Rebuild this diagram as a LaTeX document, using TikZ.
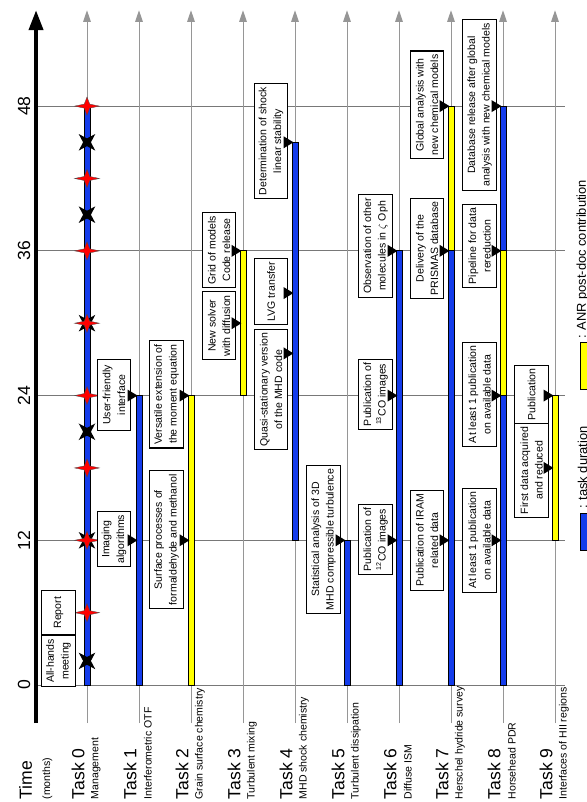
\documentclass[tikz,border=0pt]{standalone}
\usepackage{fontspec}
\setmainfont{Liberation Sans}
\usetikzlibrary{arrows.meta,shapes.geometric}
\definecolor{taskblue}{RGB}{20,60,235}
\definecolor{postdoc}{RGB}{255,255,0}
\definecolor{gridgray}{RGB}{150,150,150}

\begin{document}
\begin{tikzpicture}[
    x=1.56cm, y=0.3618cm,
    mbox/.style={draw, fill=white, line width=0.9pt, rotate=90, align=center,
                 font=\fontsize{9}{12.5}\selectfont, minimum height=28.5pt, inner sep=3pt},
    tline/.style={gridgray, line width=0.8pt, -{Triangle[length=10pt, width=6.5pt]}},
    hline/.style={gridgray!80!black, line width=0.8pt},
    bar/.style={draw=black, line width=0.6pt},
    tasklbl/.style={rotate=90, anchor=west, inner sep=0pt, font=\fontsize{15}{15}\selectfont},
    sublbl/.style={rotate=90, anchor=west, inner sep=0pt, font=\fontsize{9}{9}\selectfont},
    redstar/.style={star, star points=4, star point ratio=3.2, fill=red, draw=black!70,
                    line width=0.3pt, minimum size=15.5pt, inner sep=0pt,
                    xscale=1.37, transform shape},
    blkstar/.style={star, star points=4, star point ratio=3, fill=black,
                    shape border rotate=45, minimum size=20pt, inner sep=0pt}
  ]
  \useasboundingbox (-1.673,-9.70) rectangle (9.615,56.8);

  % --- Grid and time axis ---
  \foreach \t in {0,12,...,48}
    \draw[hline] (-0.98,\t) -- (9.19,\t);
  \foreach \i in {0,...,9}
    \draw[tline] (\i,-3.15) -- (\i,55.95);
  \draw[line width=3.2pt, -{Triangle[length=17pt, width=12pt]}] (-0.98,-3.15) -- (-0.98,55.95);
  \foreach \t in {0,12,...,48}
    \node[rotate=90, font=\fontsize{15}{15}\selectfont] (tk\t) at (-1.21,\t) {\t};

  % --- Labels ---
  \node[tasklbl] (time) at (-1.18,-9.5) {Time};
  \node[sublbl] (months) at (-0.76,-9.5) {(months)};
  \foreach \i/\name in {0/Management, 1/Interferometric OTF, 2/Grain surface chemistry,
                        3/Turbulent mixing, 4/MHD shock chemistry, 5/Turbulent dissipation,
                        6/Diffuse ISM, 7/Herschel hydride survey, 8/Horsehead PDR,
                        9/Interfaces of HII regions} {
    \node[tasklbl] (task\i) at (\i-0.17,-9.5) {Task \i};
    \node[sublbl] (sub\i) at (\i+0.17,-9.5) {\name};
  }

  % --- Task bars ---
  \foreach \i/\a/\b/\c in {0/0/48/taskblue, 1/0/24/taskblue, 2/0/24/postdoc,
                           3/24/36/postdoc, 4/12/45/taskblue, 5/0/12/taskblue,
                           6/0/36/taskblue, 7/0/36/taskblue, 7/36/48/postdoc,
                           8/0/24/taskblue, 8/24/36/postdoc, 8/36/48/taskblue,
                           9/12/24/postdoc}
    \draw[bar, fill=\c] (\i-0.058,\a) rectangle (\i+0.058,\b);

  % --- Task 0 meetings and reports ---
  \foreach \t in {2,12,21,30,39,45}
    \node[blkstar] (meet\t) at (0,\t) {};
  \foreach \t in {6,12,...,48}
    \node[redstar] (rep\t) at (0,\t) {};
  \node[mbox, minimum width=40pt] (allhands) at (-0.548,1.99) {All-hands\\meeting};
  \node[mbox, minimum width=38pt] (report) at (-0.548,6.0) {Report};

  % --- Milestones ---
  \node[mbox] (imag) at (0.52,12.1) {Imaging\\algorithms};
  \node[mbox, minimum width=60pt] (user) at (0.52,24.05) {User-friendly\\interface};
  \node[mbox] (surf) at (1.53,12.05) {Surface processes of\\formaldehyde and methanol};
  \node[mbox] (vers) at (1.53,24.1) {Versatile extension of\\the moment equation};
  \node[mbox] (solver) at (2.54,29.8) {New solver\\with diffusion};
  \node[mbox] (grid) at (2.54,36.07) {Grid of models\\Code release};
  \node[mbox] (quasi) at (3.54,24.5) {Quasi-stationary version\\of the MHD code};
  \node[mbox, minimum width=56pt] (lvg) at (3.54,32.6) {LVG transfer};
  \node[mbox] (shock) at (3.54,45.1) {Determination of shock\\linear stability};
  \node[mbox] (stat) at (4.55,12.07) {Statistical analysis of 3D\\MHD compressible turbulence};
  \node[mbox] (co12) at (5.55,12.07) {Publication of\\\textsuperscript{12}CO images};
  \node[mbox] (co13) at (5.55,24.1) {Publication of\\\textsuperscript{13}CO images};
  \node[mbox] (oph) at (5.55,36.4) {Observation of other\\molecules in $\zeta$ Oph};
  \node[mbox] (iram) at (6.54,12) {Publication of IRAM\\related data};
  \node[mbox] (prismas) at (6.54,36.2) {Delivery of the\\PRISMAS database};
  \node[mbox] (global) at (6.54,48.1) {Global analysis with\\new chemical models};
  \node[mbox] (pubA) at (7.55,12) {At least 1 publication\\on available data};
  \node[mbox] (pubB) at (7.55,24.1) {At least 1 publication\\on available data};
  \node[mbox] (pipe) at (7.55,36.4) {Pipeline for data\\rereduction};
  \node[mbox] (dbrel) at (7.55,48.1) {Database release after global\\analysis with new chemical models};
  \node[mbox] (first) at (8.55,17.8) {First data acquired\\and reduced};
  \node[mbox, minimum width=47pt] (pubC) at (8.55,24.1) {Publication};
  \foreach \i/\t in {1/12, 1/24, 2/12, 2/24, 3/30, 3/36, 4/27.5, 4/32.5, 4/45,
                     5/12, 6/12, 6/24, 6/36, 7/12, 7/36, 7/48,
                     8/12, 8/24, 8/36, 8/48, 9/18, 9/24}
    \fill (\i-0.22,\t+0.5) -- (\i-0.03,\t) -- (\i-0.22,\t-0.5) -- cycle;

  % --- Legend ---
  \draw[bar, fill=taskblue] (9.48,11.2) rectangle (9.70,14.26);
  \node[rotate=90, anchor=west, inner sep=0pt, font=\fontsize{11}{11}\selectfont]
    (lgtask) at (9.53,14.6) {: task duration};
  \draw[bar, fill=postdoc] (9.48,24.5) rectangle (9.70,28.44);
  \node[rotate=90, anchor=west, inner sep=0pt, font=\fontsize{11}{11}\selectfont]
    (lgpost) at (9.53,28.7) {: ANR post-doc contribution};
\end{tikzpicture}
\end{document}
